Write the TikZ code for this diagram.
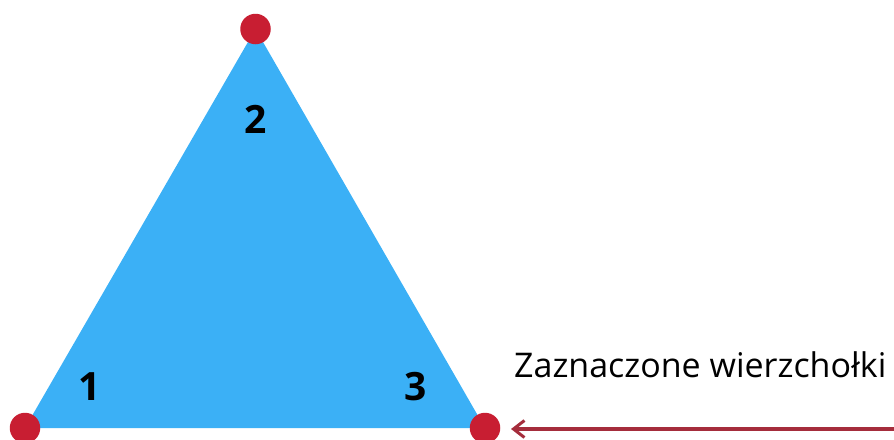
\documentclass[tikz,border=0pt]{standalone}
\usepackage{fontspec}
\setmainfont{Open Sans}
\usetikzlibrary{arrows.meta}
\definecolor{triblue}{HTML}{3BB0F6}
\definecolor{dotred}{HTML}{C81E32}
\definecolor{arrred}{HTML}{A52D3C}
\tikzset{
  vdot/.style={circle,fill=dotred,minimum size=30.5pt,inner sep=0pt},
  numlabel/.style={font=\fontsize{39}{46}\selectfont\bfseries,text=black,inner sep=0pt},
  caption/.style={font=\fontsize{34}{41}\selectfont,text=black,inner sep=0pt},
  pointer/.style={draw=arrred,line width=3.5pt,-{Straight Barb[length=11pt,width=17pt,line width=3pt]}}
}
\begin{document}
\begin{tikzpicture}[x=1pt,y=-1pt]
\useasboundingbox (0,0) rectangle (894,439);
\coordinate (A) at (25,428);
\coordinate (B) at (255.5,29);
\coordinate (C) at (485,428);
\fill[triblue] (A) -- (B) -- (C) -- cycle;
\node[vdot] (d1) at (A) {};
\node[vdot] (d2) at (B) {};
\node[vdot] (d3) at (C) {};
\node[numlabel] (n1) at (90,387) {1};
\node[numlabel] (n2) at (256,119) {2};
\node[numlabel] (n3) at (416,387) {3};
\node[caption,anchor=base west] (cap) at (514,377) {Zaznaczone wierzchołki};
\coordinate (aend) at (894,429);
\coordinate (atip) at (511,429);
\draw[pointer] (aend) -- (atip);
\end{tikzpicture}
\end{document}
